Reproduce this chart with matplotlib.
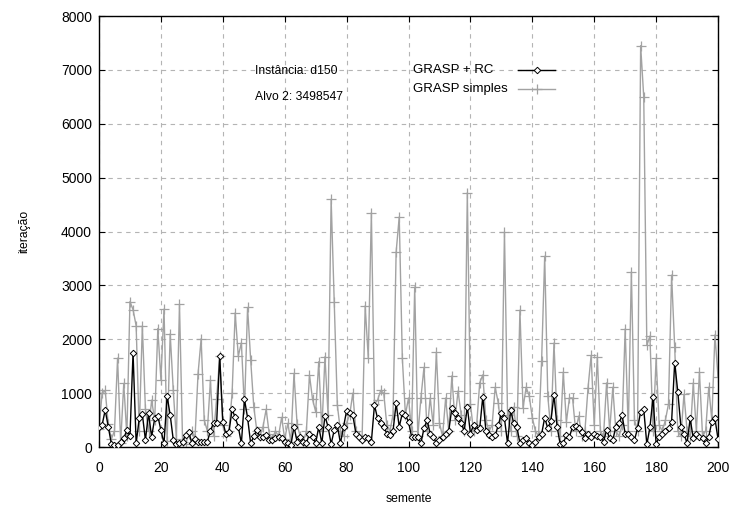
import numpy as np
import matplotlib
matplotlib.use("Agg")
from matplotlib import pyplot as plt
from matplotlib.lines import Line2D

plt.rcParams['font.family'] = ['Liberation Sans', 'DejaVu Sans']

# iterations needed per seed (seeds 0..200)
grasp_simples = [
    330, 1000, 1050, 420, 150, 300, 1650, 80, 1180, 200,
    2700, 2550, 2250, 300, 2250, 700, 300, 870, 500, 2200,
    1250, 2560, 120, 2100, 1050, 150, 2650, 100, 60, 250,
    300, 150, 1360, 2010, 500, 300, 1240, 200, 900, 1690,
    400, 200, 300, 1000, 2490, 1690, 1935, 700, 2590, 1620,
    750, 300, 200, 380, 700, 250, 150, 300, 200, 550,
    150, 440, 100, 1366, 420, 200, 100, 300, 1335, 885,
    655, 1583, 300, 1676, 600, 4600, 2700, 780, 300, 200,
    450, 600, 1000, 300, 200, 150, 2620, 1650, 4350, 800,
    870, 1050, 1000, 400, 300, 600, 3620, 4270, 1650, 600,
    910, 300, 2970, 200, 910, 1480, 300, 910, 400, 1760,
    445, 200, 910, 300, 1320, 500, 1040, 600, 300, 4720,
    800, 300, 400, 1190, 1340, 500, 300, 400, 1110, 820,
    300, 3990, 600, 300, 740, 200, 2540, 720, 1110, 950,
    540, 300, 200, 1600, 3540, 950, 300, 1930, 500, 200,
    1390, 470, 910, 910, 300, 575, 200, 300, 1100, 1700,
    400, 1670, 300, 200, 1190, 300, 1110, 300, 200, 400,
    2190, 300, 3250, 500, 300, 7450, 6500, 1890, 2060, 300,
    1645, 400, 300, 500, 800, 3190, 1855, 300, 200, 980,
    300, 200, 1190, 300, 1390, 200, 300, 1110, 500, 2080,
    1300,
]

grasp_rc = [
    365, 408, 686, 377, 56, 37, 40, 100, 161, 315,
    200, 1750, 68, 532, 612, 130, 625, 192, 532, 575,
    315, 68, 946, 594, 130, 56, 68, 100, 223, 285,
    68, 150, 100, 100, 100, 100, 300, 450, 440, 1690,
    470, 240, 285, 700, 550, 377, 68, 885, 545, 68,
    200, 315, 190, 190, 220, 130, 130, 160, 190, 160,
    100, 70, 40, 377, 100, 190, 100, 70, 250, 190,
    70, 377, 70, 575, 377, 56, 315, 408, 70, 377,
    675, 625, 594, 250, 190, 130, 190, 160, 100, 780,
    530, 440, 377, 250, 220, 300, 810, 377, 625, 594,
    470, 190, 190, 190, 70, 346, 500, 250, 190, 70,
    130, 190, 250, 300, 717, 625, 530, 440, 300, 750,
    250, 408, 315, 346, 935, 300, 220, 190, 220, 400,
    625, 530, 70, 686, 440, 377, 70, 130, 160, 70,
    40, 100, 190, 240, 545, 346, 488, 965, 377, 56,
    70, 220, 190, 377, 390, 346, 285, 160, 250, 190,
    240, 200, 190, 100, 315, 160, 130, 377, 440, 594,
    250, 240, 190, 130, 346, 655, 700, 50, 365, 920,
    56, 190, 250, 300, 346, 470, 1565, 1027, 377, 250,
    70, 530, 160, 250, 190, 160, 70, 190, 470, 530,
    150,
]

seeds = np.arange(len(grasp_simples))

GRAY = '#a2a2a2'
simples_style = dict(color=GRAY, lw=1.0, marker='+', ms=6.5, mew=0.9)
rc_style = dict(color='black', lw=1.0, marker='D', ms=3.3, mfc='white',
                mec='black', mew=0.7)

fig = plt.figure(figsize=(7.35, 5.08), dpi=100)
ax = fig.add_axes([0.1347, 0.120, 0.8422, 0.8485])

ax.plot(seeds, grasp_simples, zorder=2, **simples_style)
ax.plot(seeds, grasp_rc, zorder=3, **rc_style)

ax.set_xlim(0, 200)
ax.set_ylim(0, 8000)
ax.set_xticks(range(0, 201, 20))
ax.set_yticks(range(0, 8001, 1000))
ax.grid(True, color='#b4b4b4', linestyle=(0, (4, 4)), lw=0.8)
ax.tick_params(direction='in', length=4, labelsize=10, top=True, right=True)
ax.tick_params(axis='x', pad=10)
ax.tick_params(axis='y', pad=5)
for sp in ax.spines.values():
    sp.set_linewidth(1.0)

ax.set_xlabel('semente', fontsize=8.7, labelpad=13)
ax.set_ylabel('iteração', fontsize=8.7, labelpad=22)

ax.text(50.5, 6975, 'Instância: d150', fontsize=8.7, va='center')
ax.text(50.5, 6490, 'Alvo 2: 3498547', fontsize=8.7, va='center')

# key, gnuplot style: text on the left, sample line on the right
key_rows = [('GRASP + RC', rc_style, 0.8747), ('GRASP simples', simples_style, 0.8306)]
for label, style, ky in key_rows:
    ax.text(0.507, ky, label, transform=ax.transAxes, fontsize=9.5, va='center')
    ax.add_line(Line2D([0.677, 0.737], [ky, ky], transform=ax.transAxes,
                       color=style['color'], lw=style['lw'], zorder=4))
    ax.add_line(Line2D([0.708], [ky], transform=ax.transAxes, lw=0,
                       **{k: v for k, v in style.items() if k not in ('color', 'lw')},
                       color=style['color'], zorder=5))

fig.savefig('out.png', dpi=100)
